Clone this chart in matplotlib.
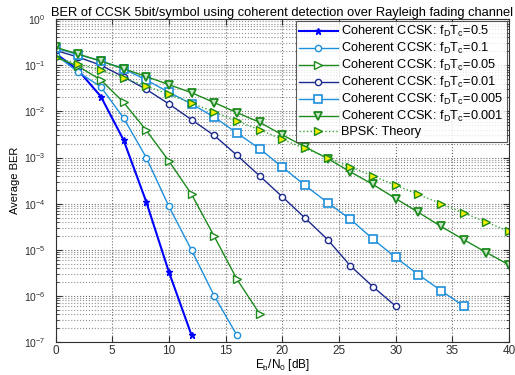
import numpy as np
import matplotlib
matplotlib.use("Agg")
import matplotlib.pyplot as plt
from matplotlib.ticker import LogLocator, NullFormatter, FixedLocator

plt.rcParams["font.family"] = ["Liberation Sans", "DejaVu Sans"]
plt.rcParams["mathtext.default"] = "regular"
plt.rcParams["font.size"] = 8

# Eb/N0 [dB] grids and BER
snr_05 = [0, 2, 4, 6, 8, 10, 12]
ber_05 = [0.18, 0.078, 0.021, 2.4e-3, 1.1e-4, 3.3e-6, 1.4e-7]

snr_01 = [0, 2, 4, 6, 8, 10, 12, 14, 16]
ber_01 = [0.17, 0.071, 0.034, 7.2e-3, 1.0e-3, 8.7e-5, 9.8e-6, 1.0e-6, 1.4e-7]

snr_005 = [0, 2, 4, 6, 8, 10, 12, 14, 16, 18]
ber_005 = [0.15, 0.095, 0.048, 0.0157, 3.9e-3, 8.4e-4, 1.59e-4, 1.95e-5, 2.3e-6, 4.1e-7]

snr_001 = list(range(0, 31, 2))
ber_001 = [0.21, 0.15, 0.10, 0.056, 0.030, 0.0145, 0.0066, 0.0030, 1.12e-3,
           4.0e-4, 1.41e-4, 4.9e-5, 1.66e-5, 4.5e-6, 1.58e-6, 6.0e-7]

snr_0005 = list(range(0, 37, 2))
ber_0005 = [0.235, 0.17, 0.125, 0.084, 0.048, 0.026, 0.0145, 0.0075, 3.4e-3,
            1.55e-3, 6.2e-4, 2.5e-4, 1.05e-4, 4.6e-5, 1.7e-5, 6.8e-6, 2.9e-6,
            1.3e-6, 6.0e-7]

snr_0001 = list(range(0, 41, 2))
ber_0001 = [0.245, 0.175, 0.123, 0.084, 0.057, 0.038, 0.0254, 0.0155, 0.0094,
            0.0058, 3.1e-3, 1.7e-3, 9.5e-4, 4.9e-4, 2.6e-4, 1.29e-4, 6.5e-5,
            3.2e-5, 1.66e-5, 8.7e-6, 4.7e-6]

snr_bpsk = list(range(0, 41, 2))
ber_bpsk = [0.146, 0.1085, 0.0771, 0.053, 0.0355, 0.0233, 0.0151, 0.00967,
            0.00617, 0.00398, 0.00248, 0.00157, 0.000993, 0.000627, 0.000396,
            0.00025, 0.000158, 9.96e-5, 6.28e-5, 3.96e-5, 2.5e-5]

labels = [
    "Coherent CCSK: f$_D$T$_c$=0.5",
    "Coherent CCSK: f$_D$T$_c$=0.1",
    "Coherent CCSK: f$_D$T$_c$=0.05",
    "Coherent CCSK: f$_D$T$_c$=0.01",
    "Coherent CCSK: f$_D$T$_c$=0.005",
    "Coherent CCSK: f$_D$T$_c$=0.001",
    "BPSK: Theory",
]

fig = plt.figure(figsize=(5.15, 3.75), dpi=100)
ax = fig.add_axes([0.1078, 0.088, 0.8806, 0.861])

light_blue = "#1e8fdc"
navy = "#1c2a8e"
green = "#1d8a1d"

ax.semilogy(snr_05, ber_05, "-*", color="#0000ff", lw=1.5, ms=5,
            mfc="#0000ff", label=labels[0])
ax.semilogy(snr_01, ber_01, "-o", color=light_blue, lw=1.0, ms=4.5,
            mfc="white", mew=1.0, label=labels[1])
ax.semilogy(snr_005, ber_005, "->", color=green, lw=1.0, ms=5.5,
            mfc="white", mew=1.0, label=labels[2])
ax.semilogy(snr_001, ber_001, "-o", color=navy, lw=1.0, ms=4.5,
            mfc="white", mew=1.0, label=labels[3])
ax.semilogy(snr_0005, ber_0005, "-s", color=light_blue, lw=1.0, ms=5.5,
            mfc="white", mew=1.2, label=labels[4])
ax.semilogy(snr_0001, ber_0001, "-v", color=green, lw=1.0, ms=5.5,
            mfc="#c8e6c8", mew=1.3, label=labels[5])
ax.semilogy(snr_bpsk, ber_bpsk, ":>", color="#3aa63a", lw=1.0, ms=5.5,
            mfc="#f0f000", mec="#1d8a1d", mew=1.0, label=labels[6])

ax.set_xlim(0, 40)
ax.set_ylim(1e-7, 1)
ax.xaxis.set_major_locator(FixedLocator(range(0, 41, 5)))
ax.yaxis.set_major_locator(LogLocator(base=10, numticks=10))
ax.yaxis.set_minor_locator(LogLocator(base=10, subs=np.arange(2, 10), numticks=20))
ax.yaxis.set_minor_formatter(NullFormatter())

ax.grid(True, which="major", ls=":", color="#707070", lw=0.8)
ax.grid(True, which="minor", axis="y", ls=":", color="#909090", lw=0.8)
ax.tick_params(which="both", direction="in", top=True, right=True,
               colors="#303030")
ax.tick_params(axis="x", labelsize=8.5, pad=2)
ax.tick_params(axis="y", labelsize=7.5, pad=7)
ax.tick_params(which="major", length=4)
ax.tick_params(which="minor", length=2)
for sp in ax.spines.values():
    sp.set_color("#303030")
    sp.set_linewidth(0.8)

ax.set_title("BER of CCSK 5bit/symbol using coherent detection over Rayleigh fading channel",
             fontsize=9.3, pad=2)
ax.set_xlabel("E$_b$/N$_0$ [dB]", fontsize=8.5, labelpad=0)
ax.set_ylabel("Average BER", fontsize=8)
ax.yaxis.set_label_coords(-0.078, 0.5)

leg = ax.legend(loc="upper right", fontsize=9.2, frameon=True, fancybox=False,
                edgecolor="#303030", borderaxespad=0.15, handlelength=3.0,
                handletextpad=0.3, labelspacing=0.15, borderpad=0.25)
leg.get_frame().set_linewidth(0.8)

fig.savefig("out.png", dpi=100)
